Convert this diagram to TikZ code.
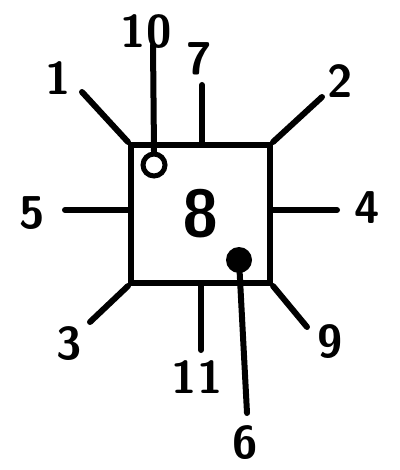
\documentclass[tikz,border=0pt]{standalone}
\usepackage{tikz}
\usetikzlibrary{positioning}
\tikzset{
  semithick,
  box/.style = {rectangle, draw, minimum width = 139pt, minimum height = 138pt,
   inner sep=0pt, font=\fontsize{66}{66}\selectfont\sffamily\bfseries},
  num/.style = {inner sep=1pt, font=\fontsize{46}{46}\selectfont\sffamily\bfseries},
  hole/.style = {circle, draw, minimum size=22pt, inner sep=0pt,
   line width=5pt, node contents={}},
  point/.style = {circle, fill=black, minimum size=26pt, inner sep=0pt,
   node contents={}},
}

\begin{document}
\begin{tikzpicture}[x=1pt, y=-1pt, line width=6pt, line cap=round]
  \useasboundingbox (0,0) rectangle (399,470);
  \node (sq) [box] at (200.5,214) {8};
  \node (o) at (154,165) [hole];
  \node (d) at (239,260) [point];
  % free ends
  \coordinate (e1)  at (82,92);
  \coordinate (e10) at (153,45);
  \coordinate (e7)  at (202,85);
  \coordinate (e2)  at (322,97);
  \coordinate (e5)  at (65,210);
  \coordinate (e4)  at (337,210);
  \coordinate (e3)  at (90,322);
  \coordinate (e11) at (201,350);
  \coordinate (e6)  at (247,413);
  \coordinate (e9)  at (307,327);
  % labels
  \node (n1)  [num] at (58,78)   {1};
  \node (n10) [num] at (146,32)  {10};
  \node (n7)  [num] at (199,59)  {7};
  \node (n2)  [num] at (340,81)  {2};
  \node (n5)  [num] at (32,213)  {5};
  \node (n4)  [num] at (367,208) {4};
  \node (n3)  [num] at (69,344)  {3};
  \node (n11) [num] at (197,377) {11};
  \node (n6)  [num] at (245,443) {6};
  \node (n9)  [num] at (330,342) {9};
  % lines
  \draw (e1) -- (sq.north west);
  \draw (e10) -- (o.north);
  \draw (e7) -- (e7 |- sq.north);
  \draw (e2) -- (sq.north east);
  \draw (e5) -- (e5 -| sq.west);
  \draw (e4) -- (e4 -| sq.east);
  \draw (e3) -- (sq.south west);
  \draw (e11) -- (e11 |- sq.south);
  \draw (d.center) -- (e6);
  \draw (e9) -- (sq.south east);
\end{tikzpicture}
\end{document}
